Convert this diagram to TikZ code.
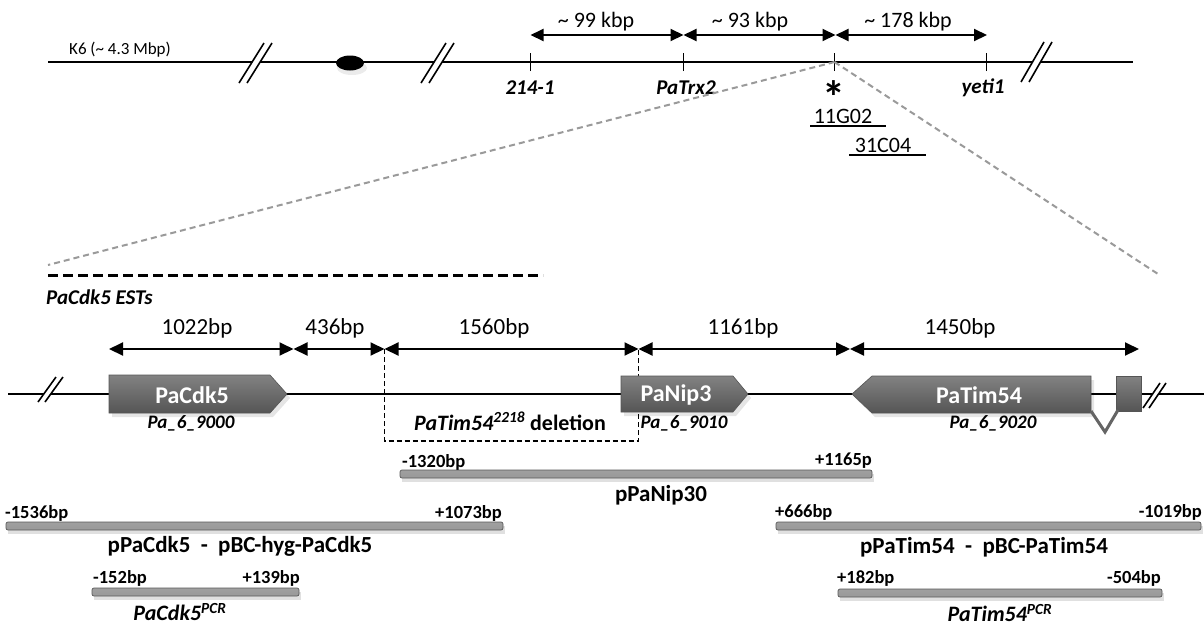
\documentclass[tikz,border=0pt]{standalone}
\usepackage{fontspec}
\setmainfont{Carlito}
\usetikzlibrary{arrows.meta}
\definecolor{genetop}{HTML}{828282}
\definecolor{genemid}{HTML}{656565}
\definecolor{genebot}{HTML}{555555}
\definecolor{zoomgray}{HTML}{9A9A9A}
\newcommand\mybar[3]{%
  \fill[black,opacity=0.12] (#1+2,#3) rectangle (#2+2,#3+8);
  \shade[top color=gray!75,middle color=gray!30,bottom color=gray!80,draw=gray!70!black,line width=0.7pt,rounded corners=2pt] (#1,#3-4) rectangle (#2,#3+4);}
\newcommand\mybreak[5]{% x, ybottom, ytop, dx, gap
  \fill[white] (#1,#2) -- (#1+#4,#3) -- (#1+#4+#5,#3) -- (#1+#5,#2) -- cycle;
  \draw[line width=1.6pt] (#1,#2) -- (#1+#4,#3);
  \draw[line width=1.6pt] (#1+#5,#2) -- (#1+#4+#5,#3);}
\tikzset{
  chrom/.style={line width=2pt},
  tickmark/.style={line width=1.5pt},
  toparrow/.style={line width=2pt,arrows={Triangle[length=13pt,width=12pt]-Triangle[length=13pt,width=12pt]}},
  dimarrow/.style={line width=2pt,arrows={Triangle[length=14pt,width=13pt]-Triangle[length=14pt,width=13pt]}},
  zoomline/.style={draw=zoomgray,line width=2pt,dash pattern=on 6pt off 4pt},
  kbp/.style={font=\fontsize{22}{26}\selectfont,inner sep=0pt},
  locus/.style={font=\fontsize{21}{25}\selectfont\bfseries\itshape,inner sep=0pt},
  clone/.style={font=\fontsize{22}{26}\selectfont,inner sep=0pt},
  bplbl/.style={font=\fontsize{23}{27}\selectfont,inner sep=0pt},
  genename/.style={font=\fontsize{24}{28}\selectfont\bfseries,text=white,inner sep=0pt},
  geneid/.style={font=\fontsize{19}{23}\selectfont\bfseries\itshape,inner sep=0pt},
  endlbl/.style={font=\fontsize{18.5}{22}\selectfont\bfseries,inner sep=0pt},
  plasmid/.style={font=\fontsize{23}{27}\selectfont\bfseries,inner sep=0pt},
  pcr/.style={font=\fontsize{22}{26}\selectfont\bfseries\itshape,inner sep=0pt},
  gene/.style={top color=genetop,middle color=genemid,bottom color=genebot,draw=genebot,line width=0.6pt},
}
\begin{document}
\begin{tikzpicture}[x=1pt,y=-1pt]
\useasboundingbox (0,0) rectangle (1204,625);
\fill[white] (0,0) rectangle (1204,625);

% ---------------- chromosome ----------------
\draw[chrom] (48,62) -- (1133,62);
\mybreak{239}{83}{43}{25}{8}
\mybreak{421}{83}{43}{25}{8}
\mybreak{1021}{82}{42}{23}{8}
\fill[black,opacity=0.08] (352,68) ellipse (15 and 7);
\fill[black] (350,63) ellipse (14 and 7.5);
\node[clone,font=\fontsize{17}{20}\selectfont] (k6) at (120,50) {K6 (\textasciitilde{} 4.3 Mbp)};

\coordinate (t1) at (530.5,62);
\coordinate (t2) at (683.5,62);
\coordinate (t3) at (834.5,62);
\coordinate (t4) at (986.5,62);
\foreach \t in {t1,t2,t3,t4} \draw[tickmark] ([yshift=-9pt]\t) -- ([yshift=9pt]\t);

\coordinate (a1) at (530.5,35);
\coordinate (a2) at (683.5,35);
\coordinate (a3) at (835.5,35);
\coordinate (a4) at (987,35);
\draw[toparrow] (a1) -- (a2);
\draw[toparrow] (a2) -- (a3);
\draw[toparrow] (a3) -- (a4);
\node[kbp] (k99) at (596,22) {\textasciitilde{} 99 kbp};
\node[kbp] (k93) at (750,22) {\textasciitilde{} 93 kbp};
\node[kbp] (k178) at (908,22) {\textasciitilde{} 178 kbp};

\node[locus] (l214) at (530,88) {214-1};
\node[locus] (ltrx) at (686,88) {PaTrx2};
\node[locus] (lyeti) at (983,88) {yeti1};
\node[font=\fontsize{46}{46}\selectfont\bfseries,inner sep=0pt,anchor=south] (ast) at (834,98) {\raisebox{-16pt}[14pt][0pt]{*}};

\node[clone] (c11) at (843,116) {11G02};
\draw[line width=2.4pt] (810,126) -- (886,126);
\node[clone] (c31) at (883,145) {31C04};
\draw[line width=2.4pt] (849,155) -- (926,155);

\coordinate (z1) at (48,265);
\coordinate (z2) at (1158,274);
\draw[zoomline] (t3) -- (z1);
\draw[zoomline] (t3) -- (z2);

% ---------------- ESTs ----------------
\draw[line width=3pt,dash pattern=on 10pt off 5pt] (48,275) -- (543,275);
\node[locus,anchor=west] (est) at (46,297) {PaCdk5 ESTs};

% ---------------- dimension arrows ----------------
\coordinate (d0) at (109,349);
\coordinate (d1) at (293.5,349);
\coordinate (d2) at (384.5,349);
\coordinate (d3) at (638.5,349);
\coordinate (d4) at (850,349);
\coordinate (d5) at (1139,349);
\draw[dimarrow] (d0) -- (d1);
\draw[dimarrow] (d1) -- (d2);
\draw[dimarrow] (d2) -- (d3);
\draw[dimarrow] (d3) -- (d4);
\draw[dimarrow] (d4) -- (d5);
\node[bplbl] (b1) at (197,328) {1022bp};
\node[bplbl] (b2) at (335,328) {436bp};
\node[bplbl] (b3) at (494,328) {1560bp};
\node[bplbl] (b4) at (743,328) {1161bp};
\node[bplbl] (b5) at (960,328) {1450bp};

% ---------------- gene row ----------------
\draw[chrom] (8,394) -- (1204,394);
\mybreak{38}{402}{377}{18}{7}
\mybreak{1143}{408}{383}{17}{6}

% deletion box
\draw[line width=1.3pt,dash pattern=on 5pt off 3pt] (d2) -- (384.5,441) -- (638.5,441) -- (d3);

% genes
\fill[black,opacity=0.10] (112,379) -- (273,379) -- (290,398) -- (273,417) -- (112,417) -- cycle;
\shade[gene] (109,375) -- (270,375) -- (287,394) -- (270,413) -- (109,413) -- cycle;
\fill[black,opacity=0.10] (624,380) -- (736,380) -- (751,398) -- (736,416) -- (624,416) -- cycle;
\shade[gene] (621,376) -- (733,376) -- (748,394) -- (733,412) -- (621,412) -- cycle;
\fill[black,opacity=0.10] (855,398) -- (875,380) -- (1094,380) -- (1094,417) -- (875,417) -- cycle;
\shade[gene] (852,394) -- (872,376) -- (1091,376) -- (1091,413) -- (872,413) -- cycle;
\shade[gene] (1116,376) rectangle (1141,411);
\draw[draw=genemid,line width=3pt,line join=miter] (1091,411) -- (1105,432) -- (1118,410);

\node[genename] (g1) at (192,395) {PaCdk5};
\node[genename] (g2) at (676,395) {PaNip3};
\node[genename] (g3) at (979,395) {PaTim54};
\node[geneid] (i1) at (191,423) {Pa\_6\_9000};
\node[geneid] (i2) at (684,423) {Pa\_6\_9010};
\node[geneid] (i3) at (993,423) {Pa\_6\_9020};
\node[font=\fontsize{22}{26}\selectfont\bfseries,inner sep=0pt] (del) at (510,421) {\textit{PaTim54\textsuperscript{2218}} deletion};

% ---------------- constructs ----------------
\mybar{400}{872}{474}
\node[endlbl,anchor=west] (n1l) at (402,462) {-1320bp};
\node[endlbl,anchor=east] (n1r) at (872,461) {+1165p};
\node[plasmid] (nip) at (661,495) {pPaNip30};

\mybar{6}{503}{526}
\node[endlbl,anchor=west] (c1l) at (5,513) {-1536bp};
\node[endlbl,anchor=east] (c1r) at (502,513) {+1073bp};
\node[plasmid] (cdk) at (240,546) {pPaCdk5\ \ -\ \ pBC-hyg-PaCdk5};

\mybar{92}{299}{592}
\node[endlbl,anchor=west] (p1l) at (93,578) {-152bp};
\node[endlbl,anchor=east] (p1r) at (300,578) {+139bp};
\node[pcr] (pcdk) at (180,612) {PaCdk5\textsuperscript{PCR}};

\mybar{776}{1201}{526}
\node[endlbl,anchor=west] (t1l) at (775,512) {+666bp};
\node[endlbl,anchor=east] (t1r) at (1202,512) {-1019bp};
\node[plasmid] (tim) at (984,547) {pPaTim54\ \ -\ \ pBC-PaTim54};

\mybar{838}{1162}{593}
\node[endlbl,anchor=west] (p2l) at (837,578) {+182bp};
\node[endlbl,anchor=east] (p2r) at (1161,578) {-504bp};
\node[pcr] (ptim) at (1000,613) {PaTim54\textsuperscript{PCR}};
\end{tikzpicture}
\end{document}
